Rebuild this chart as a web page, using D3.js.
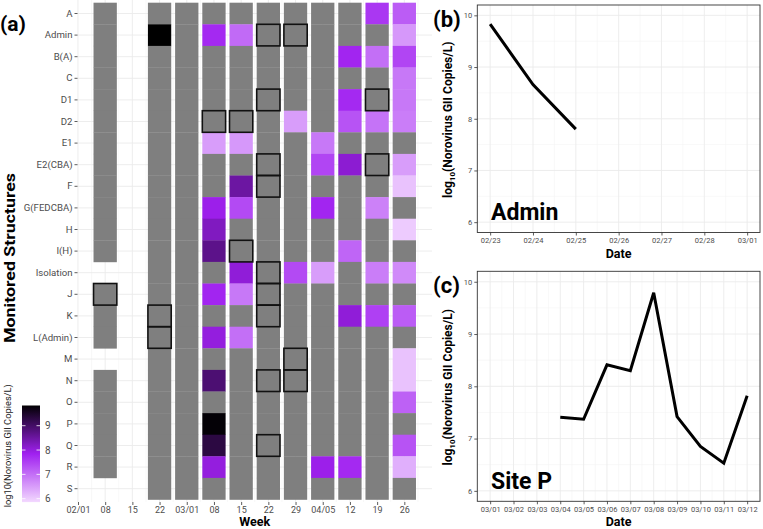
<!DOCTYPE html>
<html>
<head>
<meta charset="utf-8">
<script src="https://cdn.jsdelivr.net/npm/d3@7"></script>
<style>
body { margin: 0; background: #fff; }
text { font-family: Roboto, "Liberation Sans", Arial, sans-serif; }
</style>
</head>
<body>
<div id="chart"></div>
<script>
var svgWidth = 763;
var svgHeight = 529;

// ---- data (a): heatmap ----
var ND = "nd";   // sampled, not detected (gray tile); null = no sample
var rows = ["A", "Admin", "B(A)", "C", "D1", "D2", "E1", "E2(CBA)", "F", "G(FEDCBA)", "H", "I(H)",
    "Isolation", "J", "K", "L(Admin)", "M", "N", "O", "P", "Q", "R", "S"];

var weeks = ["2021-02-08", "2021-02-22", "2021-03-01", "2021-03-08", "2021-03-15", "2021-03-22",
    "2021-03-29", "2021-04-05", "2021-04-12", "2021-04-19", "2021-04-26"];

var feb08 = [ND, ND, ND, ND, ND, ND, ND, ND, ND, ND, ND, ND, null, ND, ND, ND, null, ND, ND, ND, ND, ND, null];
var feb22 = [ND, 9.85, ND, ND, ND, ND, ND, ND, ND, ND, ND, ND, ND, ND, ND, ND, ND, ND, ND, ND, ND, ND, ND];
var mar01 = [ND, ND, ND, ND, ND, ND, ND, ND, ND, ND, ND, ND, ND, ND, ND, ND, ND, ND, ND, ND, ND, ND, ND];
var mar08 = [ND, 7.75, ND, ND, ND, ND, 6.5, ND, ND, 7.9, 8.25, 8.7, ND, 7.8, ND, 8.0, ND, 8.9, ND, 9.8, 9.3, 8.0, ND];
var mar15 = [ND, 7.05, ND, ND, ND, ND, 6.55, ND, 8.5, 7.4, ND, ND, 8.05, 6.9, ND, 7.0, ND, ND, ND, ND, ND, ND, ND];
var mar22 = [ND, ND, ND, ND, ND, ND, ND, ND, ND, ND, ND, ND, ND, ND, ND, ND, ND, ND, ND, ND, ND, ND, ND];
var mar29 = [ND, ND, ND, ND, ND, 6.5, ND, ND, ND, ND, ND, ND, 7.4, ND, ND, ND, ND, ND, ND, ND, ND, ND, ND];
var apr05 = [ND, ND, ND, ND, ND, ND, 6.9, 7.45, ND, 7.8, ND, ND, 6.5, ND, ND, ND, ND, ND, ND, ND, ND, 7.9, ND];
var apr12 = [ND, ND, 7.8, ND, 7.75, 7.3, ND, 8.1, ND, ND, ND, 7.1, ND, ND, 8.05, ND, ND, ND, ND, ND, ND, 7.75, ND];
var apr19 = [7.6, ND, 7.0, ND, ND, 6.95, ND, ND, ND, 6.8, ND, ND, 6.85, ND, 7.5, ND, ND, ND, ND, ND, ND, ND, ND];
var apr26 = [7.2, 6.55, 7.45, 6.9, 6.9, 6.85, ND, 6.5, 6.1, ND, 6.0, ND, 6.7, ND, 7.2, ND, 6.1, 6.1, 7.15, ND, 7.3, 6.3, ND];

// outlined tiles: [week, structure]
var outlined = [["2021-02-08", "J"], ["2021-02-22", "K"], ["2021-02-22", "L(Admin)"],
    ["2021-03-08", "D2"], ["2021-03-15", "D2"], ["2021-03-15", "I(H)"],
    ["2021-03-22", "Admin"], ["2021-03-22", "D1"], ["2021-03-22", "E2(CBA)"], ["2021-03-22", "F"],
    ["2021-03-22", "Isolation"], ["2021-03-22", "J"], ["2021-03-22", "K"], ["2021-03-22", "N"],
    ["2021-03-22", "Q"], ["2021-03-29", "Admin"], ["2021-03-29", "M"], ["2021-03-29", "N"],
    ["2021-04-19", "D1"], ["2021-04-19", "E2(CBA)"]];

var weekTickDates = ["2021-02-01", "2021-02-08", "2021-02-15", "2021-02-22", "2021-03-01", "2021-03-08",
    "2021-03-15", "2021-03-22", "2021-03-29", "2021-04-05", "2021-04-12", "2021-04-19", "2021-04-26"];
var weekTickLabels = ["02/01", "08", "15", "22", "03/01", "08", "15", "22", "29", "04/05", "12", "19", "26"];
var legendTicks = [6, 7, 8, 9];

// ---- data (b) Admin, (c) Site P ----
var adminDates = ["2021-02-23", "2021-02-24", "2021-02-25"];
var adminValues = [9.83, 8.66, 7.8];
var adminTicks = ["2021-02-23", "2021-02-24", "2021-02-25", "2021-02-26", "2021-02-27", "2021-02-28", "2021-03-01"];

var siteDates = ["2021-03-04", "2021-03-05", "2021-03-06", "2021-03-07", "2021-03-08", "2021-03-09",
    "2021-03-10", "2021-03-11", "2021-03-12"];
var siteValues = [7.41, 7.37, 8.41, 8.3, 9.79, 7.42, 6.85, 6.53, 7.82];
var siteTicks = ["2021-03-01", "2021-03-02", "2021-03-03", "2021-03-04", "2021-03-05", "2021-03-06",
    "2021-03-07", "2021-03-08", "2021-03-09", "2021-03-10", "2021-03-11", "2021-03-12"];
var lineYTicks = [6, 7, 8, 9, 10];

var weekValues = [feb08, feb22, mar01, mar08, mar15, mar22, mar29, apr05, apr12, apr19, apr26];

var parse = d3.utcParse("%Y-%m-%d");
var fmt = d3.utcFormat("%m/%d");
var DAY = 864e5;

var svg = d3.select("#chart")
    .append("svg")
        .attr("width", svgWidth)
        .attr("height", svgHeight);

var color = d3.scaleLinear()
    .domain([5.85, 7.85, 9.85])
    .range(["#f3d9ff", "#a020f0", "#000000"])
    .clamp(true);

var gridMajor = "#ebebeb", gridMinor = "#f4f4f4";

// ================= (a) heatmap =================
var heat = {left: 77.5, right: 432, top: 0, bottom: 502};

var x = d3.scaleUtc()
    .domain([new Date(Date.UTC(2021, 0, 31, 21)), new Date(Date.UTC(2021, 4, 3, 3))])
    .range([heat.left, heat.right]);
var y = d3.scaleBand()
    .domain(rows)
    .range([2.7, 499.5])
    .padding(0);

var tickDates = weekTickDates.map(parse);
var gA = svg.append("g");

// minor grid between weeks
var minorDates = tickDates.map(d => new Date(+d + 3.5 * DAY));
gA.selectAll(".vminor").data(minorDates).enter().append("line")
    .attr("x1", d => x(d)).attr("x2", d => x(d))
    .attr("y1", heat.top).attr("y2", heat.bottom)
    .style("stroke", gridMinor).style("stroke-width", 0.6);
gA.selectAll(".vmajor").data(tickDates).enter().append("line")
    .attr("x1", d => x(d)).attr("x2", d => x(d))
    .attr("y1", heat.top).attr("y2", heat.bottom)
    .style("stroke", gridMajor).style("stroke-width", 0.9);
gA.selectAll(".hmajor").data(rows).enter().append("line")
    .attr("x1", heat.left).attr("x2", heat.right)
    .attr("y1", d => y(d) + y.bandwidth() / 2).attr("y2", d => y(d) + y.bandwidth() / 2)
    .style("stroke", gridMajor).style("stroke-width", 0.9);

var cells = [];
weeks.forEach(function(w, i) {
    rows.forEach(function(r, j) {
        var v = weekValues[i][j];
        if (v !== null) cells.push({date: parse(w), row: r, value: v});
    });
});

function tileX(d) { return x(new Date(+d - 3 * DAY)); }
function tileW(d) { return x(new Date(+d + 3 * DAY)) - x(new Date(+d - 3 * DAY)); }

gA.selectAll(".tile").data(cells).enter().append("rect")
    .attr("x", d => tileX(d.date))
    .attr("y", d => y(d.row))
    .attr("width", d => tileW(d.date))
    .attr("height", y.bandwidth() + 0.3)
    .style("fill", d => d.value === ND ? "#7f7f7f" : color(d.value));

gA.selectAll(".outline").data(outlined).enter().append("rect")
    .attr("x", d => tileX(parse(d[0])))
    .attr("y", d => y(d[1]))
    .attr("width", d => tileW(parse(d[0])))
    .attr("height", y.bandwidth())
    .style("fill", "none")
    .style("stroke", "#111")
    .style("stroke-width", 1.6);

var yAxisA = gA.append("g")
    .attr("transform", "translate(" + heat.left + ",0)")
    .call(d3.axisLeft(y).tickSize(3).tickPadding(2));
var xAxisA = gA.append("g")
    .attr("transform", "translate(0," + heat.bottom + ")")
    .call(d3.axisBottom(x).tickValues(tickDates).tickFormat((d, i) => weekTickLabels[i]).tickSize(3).tickPadding(2));
[yAxisA, xAxisA].forEach(function(a) {
    a.select(".domain").remove();
    a.selectAll("line").style("stroke", "#333").style("stroke-width", 0.8);
    a.selectAll("text").style("fill", "#4d4d4d").style("font-family", "Roboto");
});
yAxisA.selectAll("text").style("font-size", "9.6px");
xAxisA.selectAll("text").style("font-size", "9px");

gA.append("text")
    .attr("x", (heat.left + heat.right) / 2).attr("y", 526)
    .attr("text-anchor", "middle")
    .style("font-weight", "bold").style("font-size", "12.5px")
    .text("Week");

gA.append("text")
    .attr("transform", "translate(14.5,258) rotate(-90)")
    .attr("text-anchor", "middle")
    .attr("textLength", 170)
    .attr("lengthAdjust", "spacingAndGlyphs")
    .style("font-weight", "bold").style("font-size", "14px")
    .text("Monitored Structures");

gA.append("text")
    .attr("x", 0).attr("y", 31)
    .style("font-weight", "bold").style("font-size", "21px")
    .text("(a)");

// colour bar legend
var leg = d3.scaleLinear().domain([6, 9]).range([498.7, 425.7]);
var legTop = leg(9.83), legBot = leg(5.86);
var grad = svg.append("defs").append("linearGradient")
    .attr("id", "cbar").attr("x1", 0).attr("x2", 0).attr("y1", 1).attr("y2", 0);
d3.range(0, 1.0001, 0.05).forEach(function(t) {
    var v = 5.86 + t * (9.83 - 5.86);
    grad.append("stop").attr("offset", t).attr("stop-color", color(v));
});
gA.append("rect")
    .attr("x", 22).attr("y", legTop)
    .attr("width", 18).attr("height", legBot - legTop)
    .style("fill", "url(#cbar)");
legendTicks.forEach(function(t) {
    gA.append("line").attr("x1", 22).attr("x2", 25.5).attr("y1", leg(t)).attr("y2", leg(t))
        .style("stroke", "#fff").style("stroke-width", 0.8);
    gA.append("line").attr("x1", 36.5).attr("x2", 40).attr("y1", leg(t)).attr("y2", leg(t))
        .style("stroke", "#fff").style("stroke-width", 0.8);
    gA.append("text").attr("x", 45).attr("y", leg(t)).attr("dy", "0.35em")
        .style("font-size", "10px").style("fill", "#4d4d4d")
        .text(t);
});
gA.append("text")
    .attr("transform", "translate(11," + ((legTop + legBot) / 2 - 8) + ") rotate(-90)")
    .attr("text-anchor", "middle")
    .style("font-size", "9.3px").style("fill", "#222")
    .text("log10(Norovirus GII Copies/L)");

// ================= (b), (c) line panels =================
function linePanel(opt) {
    var g = svg.append("g");
    var px = d3.scaleUtc()
        .domain([new Date(+parse(opt.ticks[0]) - opt.pad * DAY), new Date(+parse(opt.ticks[opt.ticks.length - 1]) + opt.pad * DAY)])
        .range([opt.left, opt.right]);
    var py = d3.scaleLinear().domain([5.8, 10.2]).range([opt.bottom, opt.top]);
    var tks = opt.ticks.map(parse);

    // minor grid
    tks.slice(1).forEach(function(d) {
        var m = new Date(+d - 0.5 * DAY);
        g.append("line").attr("x1", px(m)).attr("x2", px(m)).attr("y1", opt.top).attr("y2", opt.bottom)
            .style("stroke", gridMinor).style("stroke-width", 0.6);
    });
    [6.5, 7.5, 8.5, 9.5].forEach(function(v) {
        g.append("line").attr("x1", opt.left).attr("x2", opt.right).attr("y1", py(v)).attr("y2", py(v))
            .style("stroke", gridMinor).style("stroke-width", 0.6);
    });
    // major grid
    g.selectAll(".vx").data(tks).enter().append("line")
        .attr("x1", d => px(d)).attr("x2", d => px(d)).attr("y1", opt.top).attr("y2", opt.bottom)
        .style("stroke", gridMajor).style("stroke-width", 0.9);
    g.selectAll(".hy").data(lineYTicks).enter().append("line")
        .attr("x1", opt.left).attr("x2", opt.right).attr("y1", d => py(d)).attr("y2", d => py(d))
        .style("stroke", gridMajor).style("stroke-width", 0.9);

    var line = d3.line()
        .x(d => px(d.date))
        .y(d => py(d.value));
    var pts = opt.dates.map((d, i) => ({date: parse(d), value: opt.values[i]}));
    g.append("path")
        .attr("d", line(pts))
        .style("fill", "none")
        .style("stroke", "#000")
        .style("stroke-width", 3);

    g.append("rect")
        .attr("x", opt.left).attr("y", opt.top)
        .attr("width", opt.right - opt.left).attr("height", opt.bottom - opt.top)
        .style("fill", "none").style("stroke", "#333").style("stroke-width", 0.9);

    var ax = g.append("g")
        .attr("transform", "translate(0," + opt.bottom + ")")
        .call(d3.axisBottom(px).tickValues(tks).tickFormat(fmt).tickSize(3).tickPadding(2));
    var ay = g.append("g")
        .attr("transform", "translate(" + opt.left + ",0)")
        .call(d3.axisLeft(py).tickValues(lineYTicks).tickFormat(d3.format("d")).tickSize(3).tickPadding(2));
    [ax, ay].forEach(function(a) {
        a.select(".domain").remove();
        a.selectAll("line").style("stroke", "#333").style("stroke-width", 0.8);
        a.selectAll("text").style("fill", "#4d4d4d").style("font-size", "7.5px").style("font-family", "Roboto");
    });

    g.append("text")
        .attr("x", (opt.left + opt.right) / 2).attr("y", opt.bottom + opt.titleGap)
        .attr("text-anchor", "middle")
        .style("font-weight", "bold").style("font-size", "12.5px")
        .text("Date");

    var yt = g.append("text")
        .attr("transform", "translate(452," + ((opt.top + opt.bottom) / 2 + 1) + ") rotate(-90)")
        .attr("text-anchor", "middle")
        .style("font-weight", "bold").style("font-size", "12px");
    yt.append("tspan").text("log");
    yt.append("tspan").attr("dy", 3).style("font-size", "8px").text("10");
    yt.append("tspan").attr("dy", -3).text("(Norovirus GII Copies/L)");

    g.append("text")
        .attr("x", 433).attr("y", opt.top + 22)
        .style("font-weight", "bold").style("font-size", "22px")
        .text(opt.tag);
    g.append("text")
        .attr("x", 491).attr("y", opt.bottom - 12.5)
        .style("font-weight", "bold").style("font-size", "23px")
        .text(opt.label);
}

linePanel({left: 477.3, right: 760, top: 5, bottom: 232.5, pad: 0.3, titleGap: 25.5,
    ticks: adminTicks, dates: adminDates, values: adminValues, tag: "(b)", label: "Admin"});
linePanel({left: 477.3, right: 760, top: 271.3, bottom: 501.3, pad: 0.55, titleGap: 25,
    ticks: siteTicks, dates: siteDates, values: siteValues, tag: "(c)", label: "Site P"});
</script>
</body>
</html>
